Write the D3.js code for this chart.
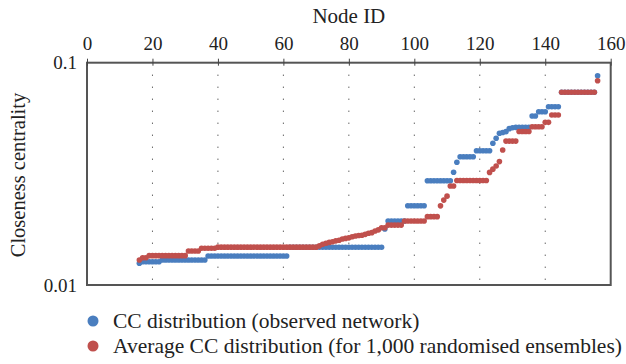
<!DOCTYPE html>
<html>
<head>
<meta charset="utf-8">
<script src="https://cdn.jsdelivr.net/npm/d3@7"></script>
<style>
  body { margin: 0; background: #fff; }
  svg text { font-family: "Liberation Serif", "DejaVu Serif", serif; fill: #222; }
</style>
</head>
<body>
<svg id="chart" width="626" height="364"></svg>
<script>
// node ids shown on the x axis
var nodeIds = d3.range(16, 157);

// closeness centrality, observed network (one value per node 16..156)
var observedCC = [
  0.01252,
  0.01273, 0.01273, 0.01273, 0.01273, 0.01273, 0.01273,
  0.01296, 0.01296, 0.01296, 0.01296, 0.01296, 0.01296, 0.01296,
  0.01296, 0.01296, 0.01296, 0.01296, 0.01296, 0.01296, 0.01296,
  0.0135, 0.0135, 0.0135, 0.0135, 0.0135, 0.0135, 0.0135, 0.0135,
  0.0135, 0.0135, 0.0135, 0.0135, 0.0135, 0.0135, 0.0135, 0.0135,
  0.0135, 0.0135, 0.0135, 0.0135, 0.0135, 0.0135, 0.0135, 0.0135, 0.0135,
  0.01478, 0.01478, 0.01478, 0.01478, 0.01478, 0.01478, 0.01478, 0.01478,
  0.01478, 0.01478, 0.01478, 0.01478, 0.01478, 0.01478, 0.01478, 0.01478,
  0.01478, 0.01478, 0.01478, 0.01478, 0.01478, 0.01478, 0.01478, 0.01478,
  0.01478, 0.01478, 0.01478, 0.01478, 0.01478,
  0.01786,
  0.01941, 0.01941, 0.01941, 0.01941, 0.01941, 0.01941,
  0.02273, 0.02273, 0.02273, 0.02273, 0.02273, 0.02273,
  0.02946, 0.02946, 0.02946, 0.02946, 0.02946, 0.02946, 0.02946, 0.02946,
  0.03214,
  0.03565,
  0.03777, 0.03777, 0.03777, 0.03777, 0.03777,
  0.04019, 0.04019, 0.04019, 0.04019, 0.04019,
  0.0434,
  0.04571,
  0.04814, 0.04850, 0.04895,
  0.0505, 0.0510, 0.0512, 0.0512, 0.0512, 0.0512, 0.0512,
  0.05758, 0.05758,
  0.06021, 0.06021, 0.06021,
  0.06341, 0.06341, 0.06341, 0.06341,
  0.0736, 0.0736, 0.0736, 0.0736, 0.0736, 0.0736, 0.0736, 0.0736, 0.0736, 0.0736, 0.0736,
  0.0874
];

// average closeness centrality over 1,000 randomised ensembles
var randomCC = [
  0.01296,
  0.01327, 0.01327,
  0.01355, 0.01355, 0.01355, 0.01355, 0.01355, 0.01355, 0.01355, 0.01355,
  0.01355, 0.01355, 0.01355, 0.01355,
  0.01422, 0.01422, 0.01422, 0.01422,
  0.01463, 0.01463, 0.01463, 0.01463, 0.01463,
  0.0148, 0.0148, 0.0148, 0.0148, 0.0148, 0.0148, 0.0148, 0.0148,
  0.0148, 0.0148, 0.0148, 0.0148, 0.0148, 0.0148, 0.0148, 0.0148,
  0.0148, 0.0148, 0.0148, 0.0148, 0.0148, 0.0148, 0.0148, 0.0148,
  0.0148, 0.0148, 0.0148, 0.0148, 0.0148, 0.0148, 0.0148,
  0.0150, 0.01524, 0.0154, 0.01555, 0.01566, 0.0158, 0.0159, 0.0161,
  0.0162, 0.0163, 0.01649, 0.0166, 0.0167, 0.01675, 0.0169, 0.0171,
  0.0172, 0.0175, 0.0177, 0.0181, 0.0181,
  0.0186, 0.0186, 0.0186, 0.0186, 0.0186,
  0.0194, 0.0194, 0.0194, 0.0194, 0.0194, 0.0194, 0.0194,
  0.0203, 0.0203, 0.0203, 0.0203,
  0.0227, 0.0241, 0.0251,
  0.0279, 0.0279,
  0.0295, 0.0295, 0.0295, 0.0295, 0.0295, 0.0295, 0.0295, 0.0295, 0.0295, 0.0295,
  0.0321, 0.0332, 0.0343, 0.0359, 0.0405,
  0.0444, 0.0444, 0.0444, 0.0444,
  0.0490, 0.0490, 0.0490, 0.0490,
  0.0515, 0.0515, 0.0515, 0.0515,
  0.0539, 0.0539,
  0.0582, 0.0582, 0.0582,
  0.0736, 0.0736, 0.0736, 0.0736, 0.0736, 0.0736, 0.0736, 0.0736, 0.0736, 0.0736, 0.0736,
  0.0830
];

var xTicks = [0, 20, 40, 60, 80, 100, 120, 140, 160];
var gridTicks = [20, 40, 60, 80, 100, 120, 140];
var yTicks = [0.01, 0.1];
var seriesNames = ['CC distribution (observed network)',
  'Average CC distribution (for 1,000 randomised ensembles)'];
var seriesColors = ['#4a7ebf', '#c0504d'];

(function () {
  var plotLeft = 87, plotRight = 610.7, plotTop = 62.7, plotBottom = 285;

  var svg = d3.select('#chart');

  var x = d3.scaleLinear().domain([0, 160]).range([plotLeft, plotRight]);
  var y = d3.scaleLog().domain([0.01, 0.1]).range([plotBottom, plotTop]);

  // dotted vertical grid
  svg.append('g').selectAll('line')
    .data(gridTicks).enter().append('line')
    .attr('x1', function(d) { return x(d); })
    .attr('x2', function(d) { return x(d); })
    .attr('y1', plotTop + 12).attr('y2', plotBottom)
    .attr('stroke', '#222').attr('stroke-width', 1)
    .attr('stroke-dasharray', '1,11');

  // points (observed first, randomised on top)
  var series = [observedCC, randomCC];
  series.forEach(function(vals, k) {
    svg.append('g').selectAll('circle')
      .data(vals).enter().append('circle')
      .attr('cx', function(d, i) { return x(nodeIds[i]); })
      .attr('cy', function(d) { return y(d); })
      .attr('r', 2.8)
      .attr('fill', seriesColors[k]);
  });

  // frame
  svg.append('rect')
    .attr('x', plotLeft).attr('y', plotTop)
    .attr('width', plotRight - plotLeft).attr('height', plotBottom - plotTop)
    .attr('fill', 'none').attr('stroke', '#555').attr('stroke-width', 2);

  // top axis
  var xAxis = d3.axisTop(x).tickValues(xTicks).tickSize(4).tickPadding(9);
  var gx = svg.append('g').attr('transform', 'translate(0,' + plotTop + ')').call(xAxis);
  gx.select('.domain').remove();
  gx.selectAll('line').attr('stroke', '#444').attr('y2', -4).attr('y1', 3);
  gx.selectAll('text').attr('font-size', 19).attr('fill', '#222')
    .style('font-family', '"Liberation Serif", serif');

  // left axis
  var yAxis = d3.axisLeft(y).tickValues(yTicks).tickSize(0).tickPadding(10)
    .tickFormat(function(d) { return d === 0.1 ? '0.1' : '0.01'; });
  var gy = svg.append('g').attr('transform', 'translate(' + plotLeft + ',0)').call(yAxis);
  gy.select('.domain').remove();
  gy.selectAll('text').attr('font-size', 19).attr('fill', '#222')
    .style('font-family', '"Liberation Serif", serif');

  // titles
  svg.append('text')
    .attr('x', (plotLeft + plotRight) / 2).attr('y', 23)
    .attr('text-anchor', 'middle').attr('font-size', 21)
    .text('Node ID');

  svg.append('text')
    .attr('transform', 'translate(25,' + 175 + ') rotate(-90)')
    .attr('text-anchor', 'middle').attr('font-size', 20.5)
    .text('Closeness centrality');

  // legend
  var legend = svg.append('g');
  seriesNames.forEach(function(name, k) {
    var cy = 321 + k * 25;
    legend.append('circle').attr('cx', 93).attr('cy', cy).attr('r', 5.5)
      .attr('fill', seriesColors[k]);
    legend.append('text').attr('x', 113).attr('y', cy + 7)
      .attr('font-size', 21.5).text(name);
  });
}());
</script>
</body>
</html>
